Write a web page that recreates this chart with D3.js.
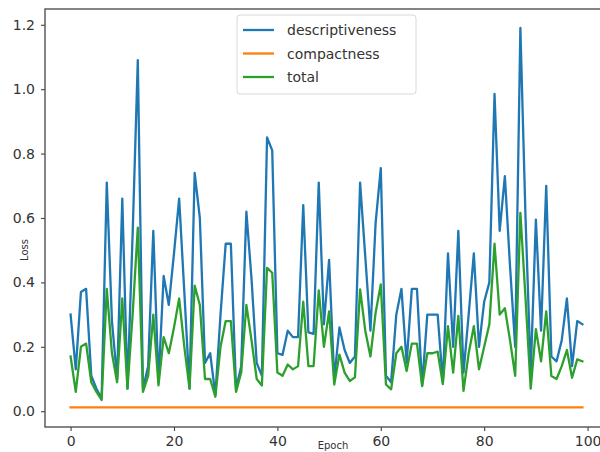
<!DOCTYPE html>
<html>
<head>
<meta charset="utf-8">
<script src="https://cdn.jsdelivr.net/npm/d3@7"></script>
<style>
  html, body { margin: 0; padding: 0; background: #fff; }
  svg { display: block; }
  text { font-family: "DejaVu Sans", sans-serif; fill: #333; }
</style>
</head>
<body>
<svg id="chart" width="600" height="452"></svg>
<script>
const epochs = d3.range(0, 100);
const descriptiveness = [
  0.30, 0.13, 0.37, 0.38, 0.11, 0.07, 0.04, 0.71, 0.28, 0.10,
  0.66, 0.07, 0.55, 1.09, 0.07, 0.14, 0.56, 0.09, 0.42, 0.33,
  0.49, 0.66, 0.37, 0.07, 0.74, 0.60, 0.15, 0.18, 0.05, 0.30,
  0.52, 0.52, 0.07, 0.14, 0.62, 0.41, 0.15, 0.11, 0.85, 0.81,
  0.18, 0.175, 0.25, 0.23, 0.23, 0.64, 0.245, 0.24, 0.71, 0.27,
  0.47, 0.10, 0.26, 0.19, 0.15, 0.17, 0.71, 0.48, 0.25, 0.585,
  0.755, 0.11, 0.09, 0.30, 0.38, 0.15, 0.38, 0.38, 0.08, 0.30,
  0.30, 0.30, 0.09, 0.49, 0.20, 0.56, 0.12, 0.30, 0.49, 0.20,
  0.34, 0.40, 0.985, 0.56, 0.73, 0.45, 0.20, 1.19, 0.60, 0.12,
  0.595, 0.25, 0.70, 0.17, 0.155, 0.22, 0.35, 0.14, 0.28, 0.27
];
const compactness = [
  0.012, 0.012, 0.012, 0.012, 0.012, 0.012, 0.012, 0.012, 0.012, 0.012,
  0.012, 0.012, 0.012, 0.012, 0.012, 0.012, 0.012, 0.012, 0.012, 0.012,
  0.012, 0.012, 0.012, 0.012, 0.012, 0.012, 0.012, 0.012, 0.012, 0.012,
  0.012, 0.012, 0.012, 0.012, 0.012, 0.012, 0.012, 0.012, 0.012, 0.012,
  0.012, 0.012, 0.012, 0.012, 0.012, 0.012, 0.012, 0.012, 0.012, 0.012,
  0.012, 0.012, 0.012, 0.012, 0.012, 0.012, 0.012, 0.012, 0.012, 0.012,
  0.012, 0.012, 0.012, 0.012, 0.012, 0.012, 0.012, 0.012, 0.012, 0.012,
  0.012, 0.012, 0.012, 0.012, 0.012, 0.012, 0.012, 0.012, 0.012, 0.012,
  0.012, 0.012, 0.012, 0.012, 0.012, 0.012, 0.012, 0.012, 0.012, 0.012,
  0.012, 0.012, 0.012, 0.012, 0.012, 0.012, 0.012, 0.012, 0.012, 0.012
];
const total = [
  0.17, 0.06, 0.20, 0.21, 0.09, 0.06, 0.035, 0.38, 0.18, 0.09,
  0.35, 0.07, 0.30, 0.57, 0.06, 0.11, 0.30, 0.08, 0.23, 0.18,
  0.26, 0.35, 0.20, 0.07, 0.39, 0.33, 0.10, 0.10, 0.045, 0.20,
  0.28, 0.28, 0.06, 0.12, 0.33, 0.22, 0.10, 0.08, 0.445, 0.43,
  0.12, 0.11, 0.145, 0.13, 0.14, 0.34, 0.14, 0.14, 0.375, 0.20,
  0.31, 0.083, 0.176, 0.12, 0.094, 0.105, 0.378, 0.25, 0.17, 0.306,
  0.394, 0.083, 0.068, 0.18, 0.20, 0.125, 0.21, 0.21, 0.078, 0.18,
  0.18, 0.185, 0.084, 0.264, 0.12, 0.296, 0.063, 0.18, 0.264, 0.13,
  0.20, 0.27, 0.52, 0.30, 0.32, 0.22, 0.11, 0.616, 0.35, 0.07,
  0.255, 0.155, 0.31, 0.109, 0.10, 0.14, 0.19, 0.104, 0.161, 0.155
];
const seriesNames = ["descriptiveness", "compactness", "total"];
const seriesColors = ["#1f77b4", "#ff7f0e", "#2ca02c"];
const xTicks = [0, 20, 40, 60, 80, 100];
const yTicks = [0.0, 0.2, 0.4, 0.6, 0.8, 1.0, 1.2];

const svg = d3.select("#chart");
const L = 45, R = 608, T = 9, B = 427;

const x = d3.scaleLinear().domain([-4.95, 103.95]).range([L, R]);
const y = d3.scaleLinear().domain([-0.049, 1.249]).range([B, T]);

// lines
const allSeries = [descriptiveness, compactness, total];
const line = d3.line().x((d, i) => x(epochs[i])).y(d => y(d));
allSeries.forEach((s, k) => {
  svg.append("path")
    .datum(s)
    .attr("d", line)
    .attr("fill", "none")
    .attr("stroke", seriesColors[k])
    .attr("stroke-width", 2.3)
    .attr("stroke-linejoin", "round")
    .attr("stroke-linecap", "square");
});

// frame
svg.append("rect")
  .attr("x", L).attr("y", T).attr("width", R - L).attr("height", B - T)
  .attr("fill", "none").attr("stroke", "#444").attr("stroke-width", 1.3);

// axes
const xAxis = d3.axisBottom(x).tickValues(xTicks).tickFormat(d3.format("d")).tickSizeOuter(0).tickSize(4).tickPadding(5);
const gx = svg.append("g").attr("transform", `translate(0,${B})`).call(xAxis);
gx.select(".domain").remove();
gx.selectAll("line").attr("stroke", "#444").attr("stroke-width", 1.1);
gx.selectAll("text").style("font-size", "14px").attr("fill", "#333");

const yAxis = d3.axisLeft(y).tickValues(yTicks).tickFormat(d3.format(".1f")).tickSizeOuter(0).tickSize(4).tickPadding(6);
const gy = svg.append("g").attr("transform", `translate(${L},0)`).call(yAxis);
gy.select(".domain").remove();
gy.selectAll("line").attr("stroke", "#444").attr("stroke-width", 1.1);
gy.selectAll("text").style("font-size", "14px").attr("fill", "#333");

// axis labels
svg.append("text").attr("x", 333).attr("y", 449)
  .attr("text-anchor", "middle").style("font-size", "10px").text("Epoch");
svg.append("text")
  .attr("transform", "translate(28,250) rotate(-90)")
  .attr("text-anchor", "middle").style("font-size", "10px").text("Loss");

// legend
const lg = svg.append("g");
lg.append("rect").attr("x", 237).attr("y", 15).attr("width", 179).attr("height", 79)
  .attr("rx", 3).attr("fill", "#fff").attr("stroke", "#d8d8d8").attr("stroke-width", 1);
seriesNames.forEach((n, k) => {
  const yy = 30 + k * 23.5;
  lg.append("line").attr("x1", 243).attr("x2", 274).attr("y1", yy).attr("y2", yy)
    .attr("stroke", seriesColors[k]).attr("stroke-width", 2.3);
  lg.append("text").attr("x", 287).attr("y", yy + 5).style("font-size", "14px").text(n);
});
</script>
</body>
</html>
